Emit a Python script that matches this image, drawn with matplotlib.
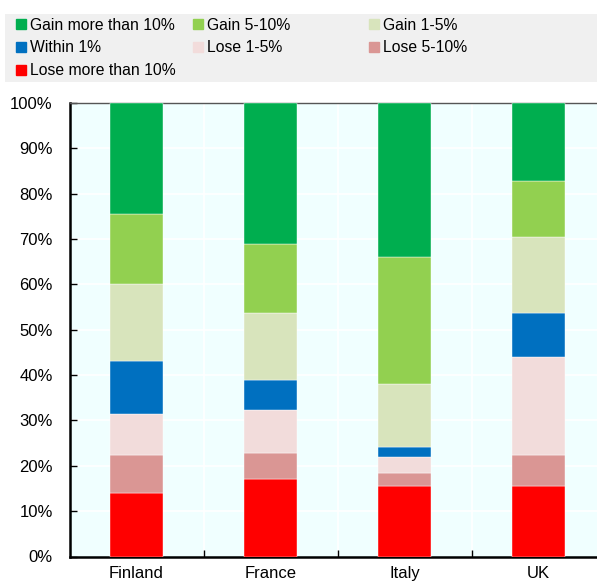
import matplotlib
matplotlib.use("Agg")
import matplotlib.pyplot as plt
import numpy as np

plt.rcParams['font.family'] = ['Liberation Sans', 'DejaVu Sans']

countries = ["Finland", "France", "Italy", "UK"]
series_names = ["Gain more than 10%", "Gain 5-10%", "Gain 1-5%",
                "Within 1%", "Lose 1-5%", "Lose 5-10%", "Lose more than 10%"]
lose_more_10 = [14.0, 17.1, 15.5, 15.5]
lose_5_10 = [8.3, 5.8, 2.9, 6.9]
lose_1_5 = [9.2, 9.5, 3.5, 21.6]
within_1 = [11.6, 6.5, 2.2, 9.8]
gain_1_5 = [16.9, 14.8, 13.9, 16.6]
gain_5_10 = [15.5, 15.3, 28.1, 12.4]
gain_more_10 = [24.5, 31.0, 33.9, 17.2]
yticks = [0, 10, 20, 30, 40, 50, 60, 70, 80, 90, 100]
ytick_labels = [f"{t}%" for t in yticks]

colors = {
    "Gain more than 10%": "#00AE4F",
    "Gain 5-10%": "#92D050",
    "Gain 1-5%": "#D8E4BC",
    "Within 1%": "#0070C0",
    "Lose 1-5%": "#F2DCDB",
    "Lose 5-10%": "#DA9694",
    "Lose more than 10%": "#FF0000",
}

stack = [("Lose more than 10%", lose_more_10), ("Lose 5-10%", lose_5_10),
         ("Lose 1-5%", lose_1_5), ("Within 1%", within_1),
         ("Gain 1-5%", gain_1_5), ("Gain 5-10%", gain_5_10),
         ("Gain more than 10%", gain_more_10)]

fig = plt.figure(figsize=(5.97, 5.82), dpi=100)
W, H = 597, 582
ax = fig.add_axes([69.5 / W, 1 - 556.5 / H, (605.5 - 69.5) / W, (556.5 - 103) / H])
ax.set_facecolor("#F0FFFF")

x = np.arange(len(countries))
bottom = np.zeros(len(countries))
for name, vals in stack:
    v = np.array(vals)
    ax.bar(x, v, bottom=bottom, width=0.4, color=colors[name],
           edgecolor="white", linewidth=0.3, zorder=3)
    bottom += v

ax.set_xlim(-0.5, 3.5)
ax.set_ylim(0, 100)
ax.set_yticks(yticks)
ax.set_yticklabels(ytick_labels, fontsize=12)
ax.set_xticks(x)
ax.set_xticklabels(countries, fontsize=12)
ax.tick_params(axis='x', length=0, pad=7)
ax.tick_params(axis='y', direction='in', length=5, width=1, pad=12, colors='black')
ax.set_xticks([0.5, 1.5, 2.5], minor=True)
ax.tick_params(axis='x', which='minor', direction='in', length=5, width=1)

for t in yticks[1:-1]:
    ax.axhline(t, color="white", linewidth=1.2, zorder=1)
for b in [0.5, 1.5, 2.5]:
    ax.axvline(b, color="white", linewidth=1.2, zorder=1)

ax.spines["right"].set_visible(False)
ax.spines["left"].set_linewidth(1.8)
ax.spines["bottom"].set_linewidth(1.8)
ax.spines["top"].set_color("#555555")
ax.spines["top"].set_linewidth(1.0)

# Legend
lax = fig.add_axes([5 / W, 1 - 82 / H, 592 / W, 68 / H])
lax.set_xlim(0, 592)
lax.set_ylim(82, 14)
lax.axis("off")
lax.add_patch(plt.Rectangle((0, 14), 592, 68, color="#F0F0F0", zorder=0))
order = series_names
col_x = [16, 193, 369]
row_y = [24, 47, 70]
for i, name in enumerate(order):
    cx = col_x[i % 3]
    cy = row_y[i // 3]
    lax.add_patch(plt.Rectangle((cx - 5, cy - 5), 10, 10, color=colors[name], zorder=2))
    lax.text(cx + 9, cy + 1, name, fontsize=11.3, va="center", ha="left")

fig.savefig("out.png", dpi=100)
